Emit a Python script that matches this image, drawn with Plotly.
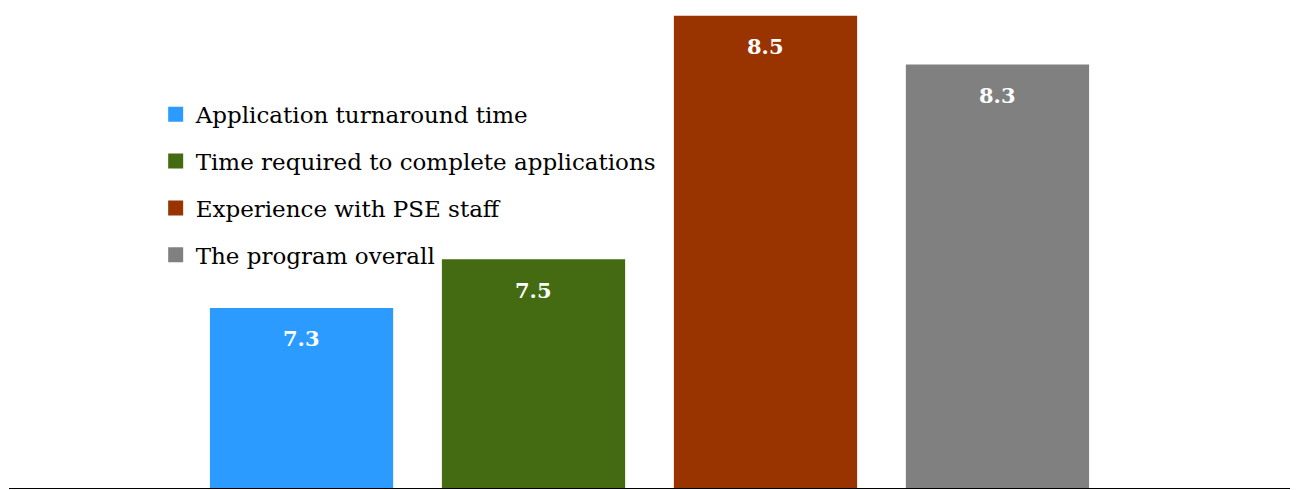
import plotly.graph_objects as go

# Satisfaction ratings by program aspect
categories = [
    "Application turnaround time",
    "Time required to complete applications",
    "Experience with PSE staff",
    "The program overall",
]
scores = [7.3, 7.5, 8.5, 8.3]
colors = ["#2b9bff", "#446b12", "#993300", "#808080"]

SERIF = "DejaVu Serif, Liberation Serif, serif"

fig = go.Figure()
for i, (name, val, col) in enumerate(zip(categories, scores, colors)):
    fig.add_trace(go.Bar(
        x=[i], y=[val], name=name,
        marker=dict(color=col, line=dict(width=0)),
        width=0.79,
        showlegend=False,
        hoverinfo="skip",
    ))
    # legend key: a larger square swatch than the default bar key
    fig.add_trace(go.Scatter(
        x=[None], y=[None], mode="markers", name=name,
        marker=dict(symbol="square", size=15, color=col),
        legendgroup=name,
    ))
    fig.add_annotation(
        x=i, y=val, text=f"<b>{val:.1f}</b>", showarrow=False,
        yanchor="middle", yshift=-31,
        font=dict(family=SERIF, size=21, color="white"),
    )

fig.update_layout(
    width=1296, height=490,
    margin=dict(l=9, r=6, t=0, b=2),
    paper_bgcolor="white", plot_bgcolor="white",
    barmode="overlay",
    showlegend=True,
    legend=dict(
        x=0.1145, y=0.81, xanchor="left", yanchor="top",
        font=dict(family=SERIF, size=23, color="black"),
        tracegroupgap=14,
        itemsizing="trace",
        bgcolor="rgba(0,0,0,0)",
    ),
    xaxis=dict(
        range=[-1.261, 4.261], showticklabels=False, ticks="",
        showgrid=False, zeroline=False,
        showline=True, linecolor="black", linewidth=1,
    ),
    yaxis=dict(
        range=[6.56, 8.565], visible=False, showgrid=False, zeroline=False,
    ),
)

fig.write_html("out.html")
